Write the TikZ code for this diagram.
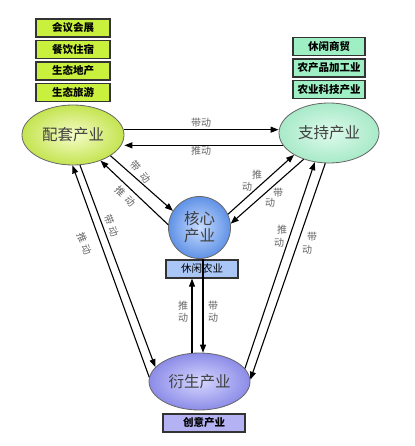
\documentclass[tikz,border=0pt]{standalone}
\usepackage{fontspec}
\setmainfont{Noto Sans CJK SC}
\usetikzlibrary{shapes.geometric,arrows.meta,calc}
\definecolor{limebox}{HTML}{C8F03C}
\definecolor{mintbox}{HTML}{9EF0C4}
\definecolor{bluebox}{HTML}{A9C6F6}
\definecolor{lavbox}{HTML}{B4B2F2}
\definecolor{labgray}{HTML}{666666}
\begin{document}
\begin{tikzpicture}[x=1pt,y=-1pt,
  arr/.style={-{Triangle[length=8pt,width=6pt]}, line width=1.1pt, black},
  boxy/.style={draw=black!80, line width=1.3pt, minimum height=18pt, inner sep=0pt,
    font=\fontsize{10.5}{11}\selectfont\bfseries},
  ellnode/.style={ellipse, draw=black!60, line width=0.8pt, inner sep=0pt,
    minimum width=102pt, minimum height=60pt, text=black!75,
    font=\fontsize{15.5}{17}\selectfont},
  lab/.style={text=labgray, inner sep=0pt, font=\fontsize{10}{11}\selectfont}
]
\useasboundingbox[fill=white] (0,0) rectangle (414,446);

% left boxes
\node[boxy, fill=limebox, minimum width=74pt] (b1) at (73,28) {会议会展};
\node[boxy, fill=limebox, minimum width=74pt] (b2) at (73,49.5) {餐饮住宿};
\node[boxy, fill=limebox, minimum width=74pt] (b3) at (73,71) {生态地产};
\node[boxy, fill=limebox, minimum width=74pt] (b4) at (73,92.5) {生态旅游};

% right boxes
\node[boxy, fill=mintbox, minimum width=72pt] (r1) at (329,46.5) {休闲商贸};
\node[boxy, fill=mintbox, minimum width=72pt] (r2) at (329,68) {农产品加工业};
\node[boxy, fill=mintbox, minimum width=72pt] (r3) at (329,89.5) {农业科技产业};

% main nodes
\node[ellnode, shading=radial, inner color={rgb,255:red,244;green,252;blue,200}, outer color={rgb,255:red,196;green,228;blue,80}] (L) at (73,135) {配套产业};
\node[ellnode, minimum width=100pt, shading=radial, inner color={rgb,255:red,222;green,250;blue,236}, outer color={rgb,255:red,168;green,234;blue,200}] (R) at (329,133) {支持产业};
\node[circle, draw=black!60, line width=0.8pt, inner sep=0pt, minimum size=62pt, align=center,
  text=black!75, font=\fontsize{15.5}{17}\selectfont,
  shading=radial, inner color={rgb,255:red,200;green,220;blue,255}, outer color={rgb,255:red,96;green,146;blue,230}] (C) at (199.5,227.5) {核心\\产业};
\node[ellnode, minimum width=101pt, minimum height=57pt, shading=radial, inner color={rgb,255:red,214;green,214;blue,255}, outer color={rgb,255:red,140;green,140;blue,232}] (B) at (199.5,381.5) {衍生产业};

\node[boxy, fill=bluebox, minimum width=72pt, font=\fontsize{10.5}{11}\selectfont] (K) at (202,269) {休闲农业};
\node[boxy, fill=lavbox, minimum width=82pt] (P) at (204,423) {创意产业};

% horizontal arrows
\draw[arr] (L.6) -- (L.6 -| R.west);
\draw[arr] (R.-165) -- (R.-165 -| L.east);
\node[lab] (h1) at (201,123) {带动};
\node[lab] (h2) at (201,151) {推动};

% left ellipse <-> core
\draw[arr] (L.-29) -- (C.148);
\draw[arr] (C.175) -- (L.-43);
\node[lab, rotate=-50] (d1a) at (135.5,165.5) {带};
\node[lab, rotate=-50] (d1b) at (145.5,177.5) {动};
\node[lab, rotate=-45] (d2a) at (120,191) {推};
\node[lab, rotate=-45] (d2b) at (130,201) {动};

% right ellipse <-> core
\draw[arr] (C.25) -- (R.-148);
\draw[arr] (R.-134) -- (C.7);
\node[lab] (e1) at (257,175) {推};
\node[lab] (e2) at (247,187) {动};
\node[lab] (e3) at (278,193) {带};
\node[lab] (e4) at (270,203) {动};

% left ellipse <-> bottom
\draw[arr] (B.175) -- (L.-91);
\draw[arr] (L.-77) -- (B.162);
\node[lab, rotate=-68] (f1a) at (109,219.5) {带};
\node[lab, rotate=-68] (f1b) at (113.5,231.5) {动};
\node[lab, rotate=-68] (f2a) at (82,238) {推};
\node[lab, rotate=-68] (f2b) at (86.5,250) {动};

% right ellipse <-> bottom
\draw[arr] (B.16) -- (R.-116);
\draw[arr] (R.-97) -- (B.2);
\node[lab] (g1) at (282,230) {推};
\node[lab] (g2) at (279,243) {动};
\node[lab] (g3) at (312,237) {带};
\node[lab] (g4) at (307,250) {动};

% core <-> bottom
\coordinate (upx) at (192,300);
\coordinate (dnx) at (203,300);
\draw[arr] (B.north -| upx) -- (K.south -| upx);
\draw[arr] (C.south -| dnx) -- (B.north -| dnx);
\node[lab, align=center] (v1) at (183,311.5) {推\\[1pt]动};
\node[lab, align=center] (v2) at (213,311.5) {带\\[1pt]动};
\end{tikzpicture}
\end{document}
